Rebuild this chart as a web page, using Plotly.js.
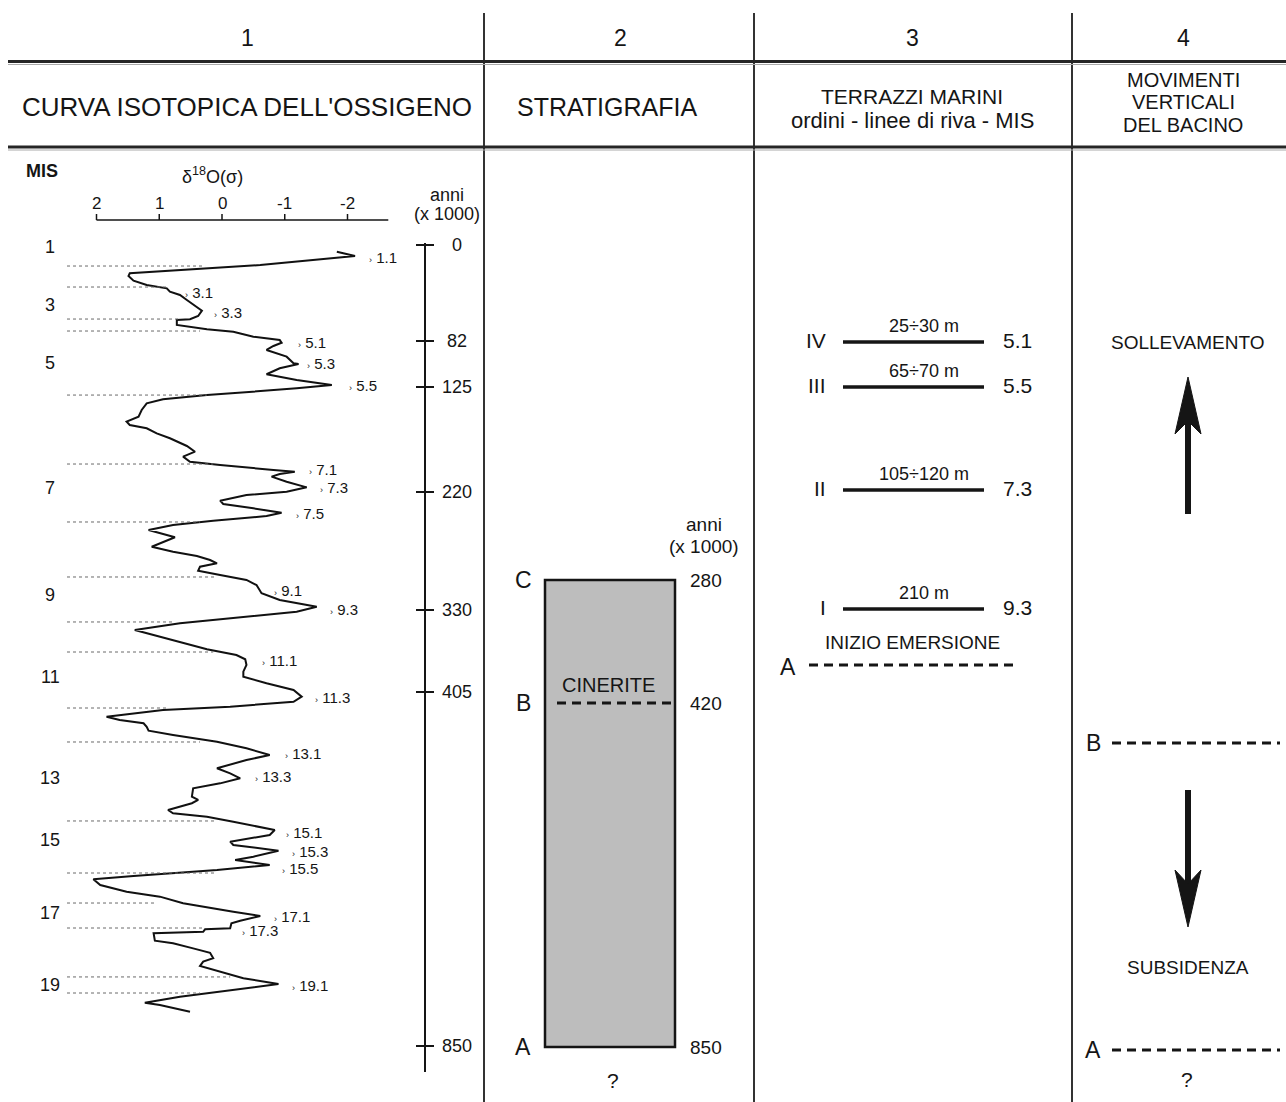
<!DOCTYPE html>
<html>
<head>
<meta charset="utf-8">
<script src="https://cdn.plot.ly/plotly-3.0.1.min.js"></script>
<style>html,body{margin:0;padding:0;background:#fff;}#chart{width:1286px;height:1102px;}</style>
</head>
<body>
<div id="chart"></div>
<script>
// ---------------- DATA ----------------
// Column 1: oxygen isotope curve (delta18O, permil) vs age (ka)
const d18O = [-1.83,-2.12,-0.61,0.40,1.47,1.49,1.41,1.20,0.88,0.83,
0.67,0.56,0.40,0.32,0.38,0.51,0.72,0.72,0.24,-0.18,
-0.50,-0.92,-0.95,-0.82,-0.71,-0.87,-1.03,-1.14,-1.22,-0.92,
-0.71,-1.19,-1.75,-1.19,-0.39,0.24,0.94,1.20,1.28,1.33,
1.52,1.47,1.20,1.04,0.83,0.56,0.43,0.62,0.51,0.03,
-0.82,-1.16,-0.92,-0.79,-1.03,-1.35,-1.03,-0.39,0.03,-0.02,
-0.50,-0.95,-0.71,0.14,0.78,1.17,0.75,1.12,0.78,0.40,
0.19,0.08,0.35,0.38,0.03,-0.39,-0.55,-0.63,-0.92,-1.51,
-1.19,-0.13,0.67,1.39,0.88,0.24,-0.23,-0.37,-0.39,-0.34,
-0.34,-0.71,-1.14,-1.27,-1.14,-0.13,0.94,1.84,1.63,1.25,
1.20,1.17,0.78,0.08,-0.39,-0.76,-0.39,0.08,-0.13,-0.29,
0.03,0.46,0.48,0.38,0.48,0.86,0.78,0.24,-0.18,-0.50,
-0.84,-0.76,-0.13,-0.18,-0.90,-0.50,-0.21,-0.76,0.08,1.41,
2.05,1.94,1.52,0.99,0.62,-0.18,-0.61,-0.29,-0.15,-0.13,
0.27,0.30,1.09,1.07,0.78,0.46,0.19,0.14,0.30,0.35,
0.08,-0.34,-0.90,-0.18,0.67,1.23,0.99,0.51];
const ageKa = [5.2,9.1,17.3,21.2,24.8,27.3,31.5,35.5,38.5,41.5,
44.5,49.1,55.2,58.8,63.6,66.6,67.3,71.8,75.7,77.9,
82.5,85.5,87.9,90.9,94.5,97.5,100.6,106.6,107.3,111.2,
116.6,121.8,126.4,129.4,132.5,135.5,139.4,143,149.1,155.2,
159.7,162.7,165.7,170.3,174.8,181.8,187,191.5,196.1,199.1,
203.6,205.2,207.3,209.7,214.3,219.4,223.4,226.4,231.5,234.5,
238.5,242.5,245.5,249.7,253.6,258.2,264.8,273.4,277.9,281.8,
285.5,288.5,291.5,295.2,299.1,303.6,308.2,315.7,321.8,327.9,
332.5,338.5,343,349.1,356.6,366.6,371.8,375.7,380.9,387,
391.5,397.5,403.6,409.7,414.3,418.8,421.8,427.9,430.9,433.9,
437,440.6,444.5,450.6,456.6,462.7,467.3,474.8,479.4,483.9,
488.5,493,500.6,503.6,506.6,512.7,515.7,518.8,523.4,527.3,
530.9,535.5,541.5,544.5,549.7,555.2,558.2,562.7,567.3,572.7,
575.7,580.9,587,591.5,597.5,605.2,609.1,613.4,615.7,620.3,
621.2,623.4,624.8,631.5,633.9,638.5,642.5,647.5,650.6,654.5,
658.8,665.7,670.9,676.4,682.5,687.9,690,696.1];

const d18OTicks = [2, 1, 0, -1, -2];
const misStages = ['1','3','5','7','9','11','13','15','17','19'];
const misAge = [0.9,53.6,106.4,220,317.3,391.8,483.6,540,606.4,671.8];
// MIS boundaries (age) and where each dashed guide meets the curve (delta18O)
const boundaryAge = [18.2,37.3,66.4,77.3,135.5,198.2,250.9,300.9,341.8,369.1,420,450.9,522.7,570,597.3,620,664.5,679.1];
const boundaryEnd = [0.27,0.86,0.67,0.35,0.24,0.14,0.35,0.08,0.75,0.14,0.86,0.35,0.08,0.08,1.04,0.30,-0.13,0.35];
// Substage labels
const subLabel = ['1.1','3.1','3.3','5.1','5.3','5.5','7.1','7.3','7.5','9.1','9.3','11.1','11.3','13.1','13.3','15.1','15.3','15.5','17.1','17.3','19.1'];
const subD = [-2.31,0.62,0.16,-1.18,-1.32,-1.99,-1.35,-1.53,-1.15,-0.80,-1.69,-0.61,-1.45,-0.97,-0.49,-0.99,-1.08,-0.92,-0.80,-0.29,-1.08];
const subAge = [10.0,42.7,60.9,87.3,106.4,126.4,203.6,219.1,243.6,313.6,330,376.4,410,461.8,482.7,533.6,550,565.5,609.5,622.5,672.7];
// Age ruler (x 1000 years)
const rulerLabels = ['0','82','125','220','330','405','850'];
const rulerY = [245,341,387,492,610,692,1046];

// Column 2: stratigraphy
const stratLetters = ['C','B','A'];
const stratAges = ['280','420','850'];
const stratY = [580,703,1047];

// Column 3: marine terraces
const terrOrder = ['IV','III','II','I'];
const terrElev = ['25÷30 m','65÷70 m','105÷120 m','210 m'];
const terrMIS = ['5.1','5.5','7.3','9.3'];
const terrY = [342,387,490,609];

// Column headers
const colNumbers = ['1','2','3','4'];
const colCenters = [247,620,912,1183];

// ---------------- LAYOUT ----------------
const W = 1286, H = 1102;
const FONT = 'Liberation Sans, Arial, Helvetica, sans-serif';
const INK = '#151515';
const shapes = [];
const ann = [];
function txt(x, y, t, size, opt) {
  ann.push(Object.assign({x:x, y:y, xref:'x', yref:'y', text:t, showarrow:false,
    font:{family:FONT, size:size, color:INK}, xanchor:'center', yanchor:'middle'}, opt||{}));
}
function hline(x0, x1, y, w, color, dash, refs) {
  shapes.push(Object.assign({type:'line', x0:x0, x1:x1, y0:y, y1:y, xref:'x', yref:'y',
    line:{color:color||INK, width:w, dash:dash||'solid'}}, refs||{}));
}
function vline(x, y0, y1, w, color) {
  shapes.push({type:'line', x0:x, x1:x, y0:y0, y1:y1, xref:'x', yref:'y', line:{color:color||INK, width:w}});
}

// frame
vline(484, 13, H, 2, '#333');
vline(754, 13, H, 2, '#333');
vline(1072, 13, H, 2, '#333');
hline(8, W, 61.5, 3, '#262626');
hline(8, W, 64.5, 1, '#aaa');
hline(8, W, 147, 3, '#262626');
hline(8, W, 150, 1, '#aaa');

colNumbers.forEach((n, i) => txt(colCenters[i], 38, n, 23));
txt(247, 107, "CURVA ISOTOPICA DELL'OSSIGENO", 26);
txt(607, 107, 'STRATIGRAFIA', 25);
txt(912, 96, 'TERRAZZI MARINI', 21);
txt(912, 120, 'ordini - linee di riva - MIS', 22);
txt(1183, 80, 'MOVIMENTI', 20);
txt(1183, 102, 'VERTICALI', 20);
txt(1183, 125, 'DEL BACINO', 20);

// ---- column 1 ----
txt(42, 171, '<b>MIS</b>', 18);
txt(212, 175, 'δ<sup>18</sup>O(σ)', 18);
txt(447, 195, 'anni', 18);
txt(447, 214, '(x 1000)', 18);
// delta18O axis (through the curve's own x scale)
hline(2, -2.65, 220, 1.5, INK, 'solid', {xref:'x2'});
d18OTicks.forEach(v => {
  shapes.push({type:'line', xref:'x2', yref:'y', x0:v, x1:v, y0:214, y1:220, line:{color:INK, width:1.5}});
  ann.push({x:v, y:203, xref:'x2', yref:'y', text:String(v), showarrow:false,
    font:{family:FONT, size:17, color:INK}, xanchor:'center', yanchor:'middle'});
});
// MIS boundaries
boundaryAge.forEach((a, i) => {
  shapes.push({type:'line', xref:'x2', yref:'y2', x0:2.47, x1:boundaryEnd[i], y0:a, y1:a,
    line:{color:'#6a6a6a', width:1, dash:'3px,3px'}});
});
// MIS numbers
misStages.forEach((m, i) => {
  ann.push({x:50, y:misAge[i], xref:'x', yref:'y2', text:m, showarrow:false,
    font:{family:FONT, size:18, color:INK}, xanchor:'center', yanchor:'middle'});
});
// substage labels
subLabel.forEach((s, i) => {
  ann.push({x:subD[i], y:subAge[i], xref:'x2', yref:'y2',
    text:"<span style='font-size:9px'>›</span> " + s, showarrow:false,
    font:{family:FONT, size:15, color:INK}, xanchor:'left', yanchor:'middle'});
});
// age ruler
vline(425, 243, 1072, 2);
rulerLabels.forEach((l, i) => {
  hline(416, 434, rulerY[i], 2);
  txt(457, rulerY[i], l, 18);
});

// ---- column 2 ----
shapes.push({type:'rect', xref:'x', yref:'y', x0:545, x1:675, y0:stratY[0], y1:stratY[2],
  fillcolor:'#bdbdbd', line:{color:INK, width:2.5}});
stratLetters.forEach((l, i) => {
  txt(523, stratY[i], l, 23);
  txt(706, stratY[i], stratAges[i], 19);
});
txt(704, 524, 'anni', 19);
txt(704, 546, '(x 1000)', 19);
txt(608, 685, 'CINERITE', 20);
hline(557, 672, stratY[1], 3, INK, '9px,6px');
txt(613, 1080, '?', 21);

// ---- column 3 ----
terrOrder.forEach((t, i) => {
  txt(828, terrY[i] - 2, t, 21, {xanchor:'right'});
  hline(843, 984, terrY[i], 3.5);
  txt(924, terrY[i] - 16, terrElev[i], 18);
  txt(1001, terrY[i] - 2, terrMIS[i], 21, {xanchor:'left'});
});
txt(912, 642, 'INIZIO EMERSIONE', 19);
txt(788, 667, 'A', 23);
hline(809, 1018, 665, 3, INK, '9px,6px');

// ---- column 4 ----
txt(1187, 342, 'SOLLEVAMENTO', 19);
vline(1188, 418, 514, 6);
shapes.push({type:'path', xref:'x', yref:'y', path:'M 1188 377 L 1201 434 L 1188 421 L 1175 434 Z',
  fillcolor:INK, line:{color:INK, width:1}});
txt(1093, 743, 'B', 23);
hline(1112, 1280, 743, 3, INK, '9px,6px');
vline(1188, 790, 886, 6);
shapes.push({type:'path', xref:'x', yref:'y', path:'M 1188 927 L 1201 870 L 1188 884 L 1175 870 Z',
  fillcolor:INK, line:{color:INK, width:1}});
txt(1188, 967, 'SUBSIDENZA', 19);
txt(1093, 1050, 'A', 23);
hline(1112, 1280, 1050, 3, INK, '9px,6px');
txt(1187, 1079, '?', 21);

const traces = [
  {x:[0], y:[0], xaxis:'x', yaxis:'y', type:'scatter', mode:'markers', marker:{opacity:0}, hoverinfo:'skip'},
  {x:d18O, y:ageKa, xaxis:'x2', yaxis:'y2', type:'scatter', mode:'lines',
   line:{color:'#111', width:2, shape:'linear'}, hoverinfo:'skip'}
];

const layout = {
  width:W, height:H, margin:{l:0, r:0, t:0, b:0},
  paper_bgcolor:'#fff', plot_bgcolor:'rgba(0,0,0,0)', showlegend:false,
  font:{family:FONT, color:INK},
  xaxis:{range:[0, W], visible:false, fixedrange:true},
  yaxis:{range:[H, 0], visible:false, fixedrange:true},
  // delta18O scale: 0 permil at x=222 px, 62.75 px per permil, increasing to the left
  xaxis2:{range:[222/62.75, (222 - W)/62.75], overlaying:'x', visible:false, fixedrange:true},
  // age scale: 0 ka at y=246 px, 1.1 px per ka
  yaxis2:{range:[(H - 246)/1.1, -246/1.1], overlaying:'y', visible:false, fixedrange:true},
  shapes:shapes, annotations:ann
};

Plotly.newPlot('chart', traces, layout, {staticPlot:true, displayModeBar:false});
</script>
</body>
</html>
